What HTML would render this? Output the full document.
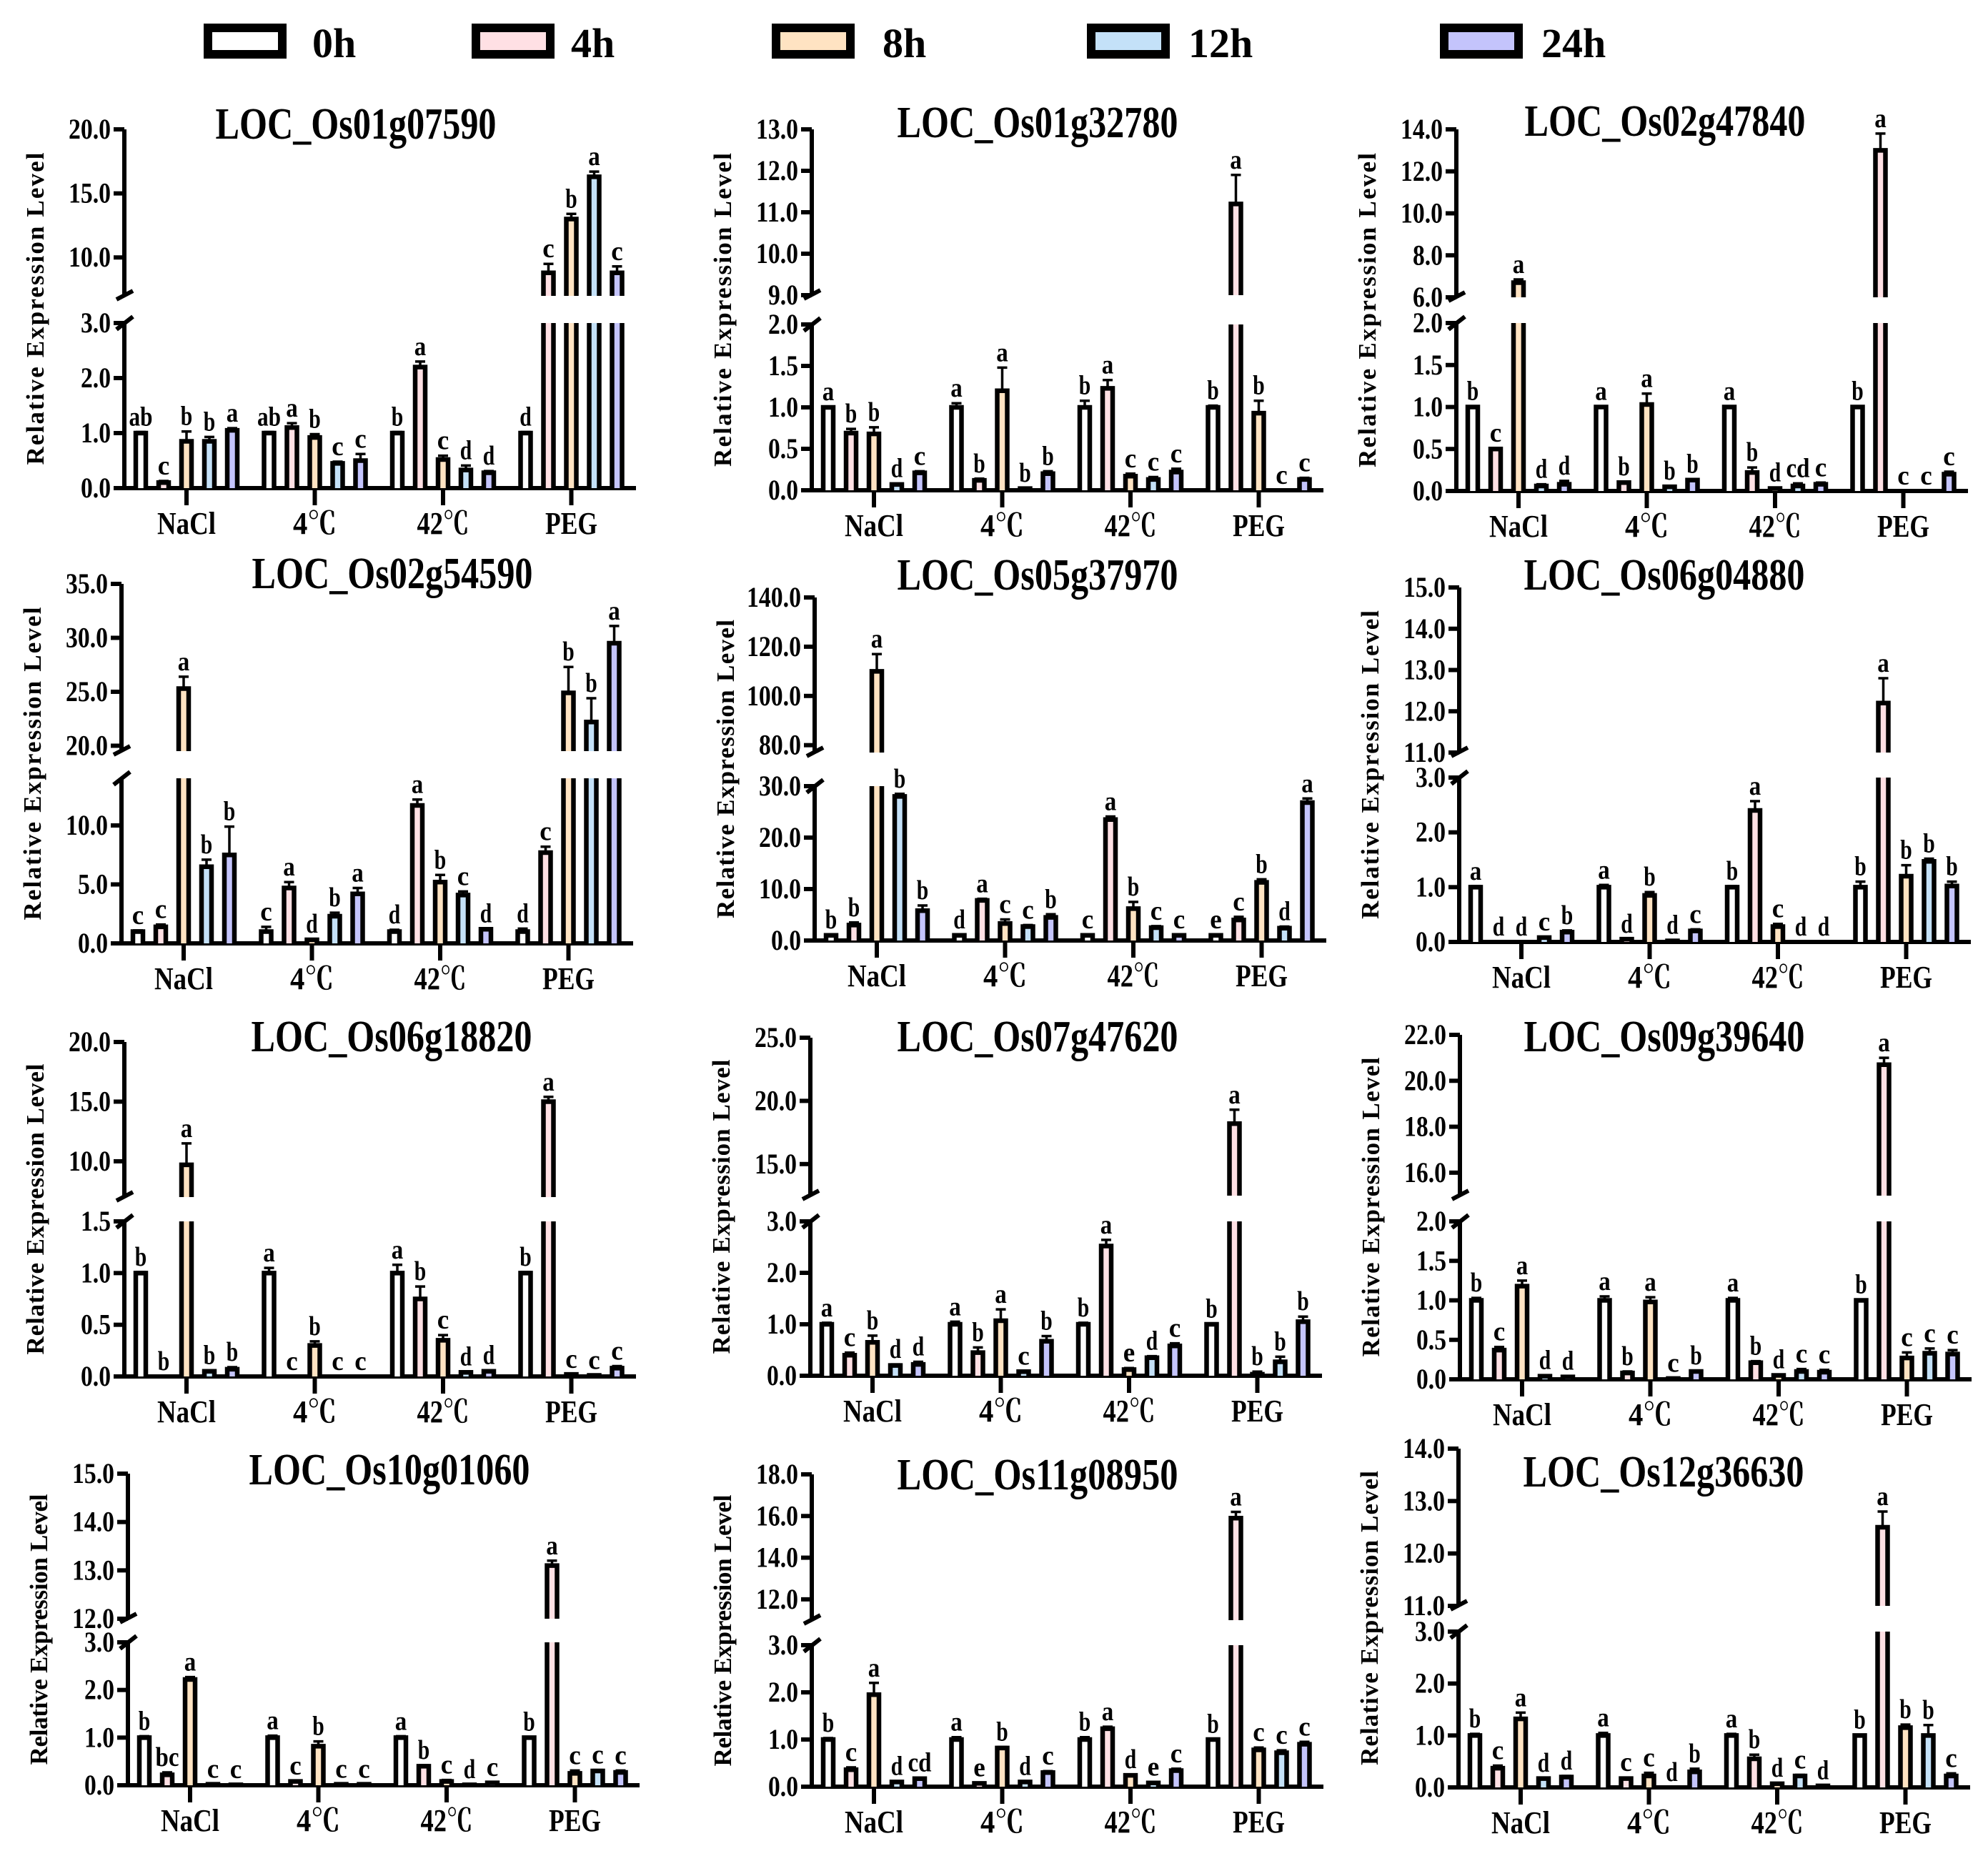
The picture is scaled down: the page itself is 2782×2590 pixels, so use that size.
<!DOCTYPE html>
<html><head><meta charset="utf-8"><style>
html,body{margin:0;padding:0;background:#fff;}
svg{display:block;}
text{font-family:"Liberation Serif","Noto Serif CJK SC",serif;font-weight:bold;fill:#000;}
</style></head><body>
<svg id="fig" xmlns="http://www.w3.org/2000/svg" width="2782" height="2590" viewBox="0 0 2782 2590">
<rect x="0" y="0" width="2782" height="2590" fill="#fff"/>
<g id="legend"></g>
<g id="panels"></g>
</svg>
<script>
const series = ['0h','4h','8h','12h','24h'];
const seriesColors = ['#ffffff','#ffe0e4','#ffe3c2','#c4e1f8','#c4c4fc'];
const categories = ['NaCl','4℃','42℃','PEG'];
const genes = ['LOC_Os01g07590','LOC_Os01g32780','LOC_Os02g47840','LOC_Os02g54590','LOC_Os05g37970','LOC_Os06g04880','LOC_Os06g18820','LOC_Os07g47620','LOC_Os09g39640','LOC_Os10g01060','LOC_Os11g08950','LOC_Os12g36630'];

const valuesP1 = [[1.0,0.1,0.85,0.85,1.05],[1.0,1.1,0.92,0.45,0.5],[1.0,2.2,0.52,0.33,0.28],[1.0,8.8,13.0,16.3,8.8]];
const errorsP1 = [[0.02,0.03,0.18,0.08,0.04],[0.02,0.08,0.06,0.03,0.12],[0.02,0.1,0.07,0.08,0.03],[0.02,0.7,0.4,0.4,0.5]];
const lettersP1 = [['ab','c','b','b','a'],['ab','a','b','c','c'],['b','a','c','d','d'],['d','c','b','a','c']];

const valuesP2 = [[1.0,0.69,0.68,0.07,0.21],[1.0,0.12,1.2,0.02,0.2],[1.0,1.23,0.17,0.13,0.22],[1.0,11.2,0.93,0,0.13]];
const errorsP2 = [[0.01,0.05,0.08,0.01,0.02],[0.05,0.02,0.28,0.005,0.03],[0.08,0.1,0.03,0.03,0.04],[0.02,0.7,0.15,0,0.02]];
const lettersP2 = [['a','b','b','d','c'],['a','b','a','b','b'],['b','a','c','c','c'],['b','a','b','c','c']];

const valuesP3 = [[1.0,0.5,6.7,0.06,0.08],[1.0,0.1,1.03,0.05,0.13],[1.0,0.22,0.03,0.06,0.08],[1.0,13.0,0,0,0.2]];
const errorsP3 = [[0.01,0.01,0.15,0.02,0.04],[0.01,0.01,0.13,0.01,0.01],[0.01,0.06,0.01,0.03,0.02],[0.01,0.8,0,0,0.03]];
const lettersP3 = [['b','c','a','d','d'],['a','b','a','b','b'],['a','b','d','cd','c'],['b','a','c','c','c']];

const valuesP4 = [[1.0,1.4,25.3,6.5,7.5],[1.0,4.7,0.3,2.3,4.2],[1.0,11.7,5.2,4.1,1.2],[1.0,7.7,24.9,22.2,29.5]];
const errorsP4 = [[0.1,0.2,1.1,0.6,2.4],[0.4,0.5,0.05,0.3,0.5],[0.15,0.5,0.6,0.3,0.05],[0.25,0.5,2.4,2.2,1.6]];
const lettersP4 = [['c','c','a','b','b'],['c','a','d','b','a'],['d','a','b','c','d'],['d','c','b','b','a']];

const valuesP5 = [[1.0,3.0,110,28,5.8],[1.0,7.8,3.3,2.7,4.5],[1.0,23.5,6.2,2.5,1.0],[1.0,4.0,11.3,2.4,26.8]];
const errorsP5 = [[0.1,0.5,7,0.5,1.0],[0.1,0.3,0.8,0.3,0.6],[0.1,0.6,1.3,0.3,0.1],[0.1,0.6,0.6,0.3,0.8]];
const lettersP5 = [['b','b','a','b','b'],['d','a','c','c','b'],['c','a','b','c','c'],['e','c','b','d','a']];

const valuesP6 = [[1.0,0,0,0.08,0.18],[1.0,0.05,0.85,0.02,0.2],[1.0,2.4,0.28,0,0],[1.0,12.2,1.2,1.47,1.02]];
const errorsP6 = [[0.02,0,0,0.01,0.03],[0.04,0.005,0.06,0.01,0.03],[0.02,0.17,0.05,0,0],[0.1,0.6,0.2,0.05,0.08]];
const lettersP6 = [['a','d','d','c','b'],['a','d','b','d','c'],['b','a','c','d','d'],['b','a','b','b','b']];

const valuesP7 = [[1.0,0,9.7,0.05,0.07],[1.0,0,0.3,0,0],[1.0,0.75,0.35,0.04,0.05],[1.0,15.0,0.02,0.01,0.08]];
const errorsP7 = [[0.01,0,1.8,0.01,0.02],[0.05,0,0.04,0,0],[0.08,0.12,0.05,0.005,0.01],[0.01,0.4,0,0,0.02]];
const lettersP7 = [['b','b','a','b','b'],['a','c','b','c','c'],['a','b','c','d','d'],['b','a','c','c','c']];

const valuesP8 = [[1.0,0.4,0.65,0.2,0.22],[1.0,0.45,1.07,0.08,0.67],[1.0,2.52,0.12,0.35,0.58],[1.0,18.2,0.03,0.27,1.05]];
const errorsP8 = [[0.03,0.05,0.13,0.02,0.05],[0.05,0.1,0.22,0.01,0.1],[0.03,0.12,0.03,0.03,0.05],[0.01,1.1,0.05,0.1,0.1]];
const lettersP8 = [['a','c','b','d','d'],['a','b','a','c','b'],['b','a','e','d','c'],['b','a','b','b','b']];

const valuesP9 = [[1.0,0.37,1.18,0.04,0.03],[1.0,0.08,0.98,0.01,0.1],[1.0,0.21,0.05,0.1,0.09],[1.0,20.7,0.27,0.33,0.32]];
const errorsP9 = [[0.03,0.04,0.07,0.01,0.01],[0.05,0.02,0.06,0.005,0.01],[0.03,0.02,0.01,0.03,0.03],[0.01,0.3,0.07,0.06,0.05]];
const lettersP9 = [['b','c','a','d','d'],['a','b','a','c','b'],['a','b','d','c','c'],['b','a','c','c','c']];

const valuesP10 = [[1.0,0.22,2.22,0.02,0.01],[1.0,0.08,0.82,0.02,0.02],[1.0,0.4,0.08,0.01,0.05],[1.0,13.1,0.25,0.3,0.27]];
const errorsP10 = [[0.03,0.05,0.05,0.005,0.005],[0.04,0.01,0.1,0.005,0.005],[0.03,0.02,0.03,0.005,0.01],[0.01,0.1,0.06,0.02,0.04]];
const lettersP10 = [['b','bc','a','c','c'],['a','c','b','c','c'],['a','b','c','d','c'],['b','a','c','c','c']];

const valuesP11 = [[1.0,0.36,1.95,0.1,0.17],[1.0,0.07,0.82,0.1,0.3],[1.0,1.23,0.24,0.08,0.34],[1.0,15.9,0.78,0.72,0.9]];
const errorsP11 = [[0.03,0.05,0.25,0.01,0.02],[0.05,0.01,0.02,0.01,0.03],[0.05,0.04,0.02,0.02,0.04],[0.01,0.3,0.05,0.05,0.05]];
const lettersP11 = [['b','c','a','d','cd'],['a','e','b','d','c'],['b','a','d','e','c'],['b','a','c','c','c']];

const valuesP12 = [[1.0,0.37,1.32,0.17,0.2],[1.0,0.17,0.22,0,0.3],[1.0,0.55,0.07,0.22,0.03],[1.0,12.5,1.15,1.0,0.22]];
const errorsP12 = [[0.03,0.05,0.12,0.01,0.02],[0.05,0.02,0.06,0,0.06],[0.03,0.08,0.01,0.02,0.005],[0.01,0.3,0.06,0.2,0.05]];
const lettersP12 = [['b','c','a','d','d'],['a','c','c','d','b'],['a','b','d','c','d'],['b','a','b','b','c']];

const upperTicksP1=[10,15,20], lowerTicksP1=[0,1,2,3];
const upperTicksP2=[9,10,11,12,13], lowerTicksP2=[0,0.5,1,1.5,2];
const upperTicksP3=[6,8,10,12,14], lowerTicksP3=[0,0.5,1,1.5,2];
const upperTicksP4=[20,25,30,35], lowerTicksP4=[0,5,10];
const upperTicksP5=[80,100,120,140], lowerTicksP5=[0,10,20,30];
const upperTicksP6=[11,12,13,14,15], lowerTicksP6=[0,1,2,3];
const upperTicksP7=[10,15,20], lowerTicksP7=[0,0.5,1,1.5];
const upperTicksP8=[15,20,25], lowerTicksP8=[0,1,2,3];
const upperTicksP9=[16,18,20,22], lowerTicksP9=[0,0.5,1,1.5,2];
const upperTicksP10=[12,13,14,15], lowerTicksP10=[0,1,2,3];
const upperTicksP11=[12,14,16,18], lowerTicksP11=[0,1,2,3];
const upperTicksP12=[11,12,13,14], lowerTicksP12=[0,1,2,3];

const uRangeP = [[7,20],[9,13],[6,14],[19.5,35],[77,140],[11,15],[7,20],[12.5,25],[15,22],[12,15],[11,18],[11,14]];
const lMaxP = [3,2,2,14,30,3,1.5,3,2,3,3,3];

const layout = [
 {x0:174,uTop:181,uBot:414,lTop:452,zero:683,tx:498,ty:194},
 {x0:1136,uTop:181,uBot:413,lTop:454,zero:686,tx:1452,ty:192},
 {x0:2038,uTop:181,uBot:416,lTop:452,zero:687,tx:2330,ty:190},
 {x0:170,uTop:817,uBot:1051,lTop:1089,zero:1320,tx:549,ty:823},
 {x0:1140,uTop:836,uBot:1053,lTop:1100,zero:1316,tx:1452,ty:825},
 {x0:2042,uTop:822,uBot:1053,lTop:1088,zero:1318,tx:2329,ty:825},
 {x0:174,uTop:1458,uBot:1675,lTop:1709,zero:1926,tx:548,ty:1471},
 {x0:1134,uTop:1452,uBot:1673,lTop:1709,zero:1925,tx:1452,ty:1471},
 {x0:2043,uTop:1448,uBot:1673,lTop:1709,zero:1930,tx:2329,ty:1471},
 {x0:179,uTop:2062,uBot:2265,lTop:2298,zero:2498,tx:545,ty:2077},
 {x0:1136,uTop:2063,uBot:2267,lTop:2302,zero:2500,tx:1452,ty:2084},
 {x0:2041,uTop:2027,uBot:2247,lTop:2283,zero:2501,tx:2328,ty:2080}
];
const catLabelWidths=[82,61,73,73];
const allValues=[valuesP1,valuesP2,valuesP3,valuesP4,valuesP5,valuesP6,valuesP7,valuesP8,valuesP9,valuesP10,valuesP11,valuesP12];
const allErrors=[errorsP1,errorsP2,errorsP3,errorsP4,errorsP5,errorsP6,errorsP7,errorsP8,errorsP9,errorsP10,errorsP11,errorsP12];
const allLetters=[lettersP1,lettersP2,lettersP3,lettersP4,lettersP5,lettersP6,lettersP7,lettersP8,lettersP9,lettersP10,lettersP11,lettersP12];
const allUpper=[upperTicksP1,upperTicksP2,upperTicksP3,upperTicksP4,upperTicksP5,upperTicksP6,upperTicksP7,upperTicksP8,upperTicksP9,upperTicksP10,upperTicksP11,upperTicksP12];
const allLower=[lowerTicksP1,lowerTicksP2,lowerTicksP3,lowerTicksP4,lowerTicksP5,lowerTicksP6,lowerTicksP7,lowerTicksP8,lowerTicksP9,lowerTicksP10,lowerTicksP11,lowerTicksP12];

const NS='http://www.w3.org/2000/svg';
function mk(tag, attrs, parent){const e=document.createElementNS(NS,tag);for(const k in attrs)e.setAttribute(k,attrs[k]);if(parent)parent.appendChild(e);return e;}

const legendG=document.getElementById('legend');
const legBoxX=[285,660,1080,1521,2015];
const legTextX=[437,799,1235,1663,2157];
series.forEach((s,i)=>{
  const g=mk('g',{},legendG);
  
  
  const r=mk('rect',{x:legBoxX[i]+6,y:39,width:104,height:37,fill:seriesColors[i],stroke:'#000','stroke-width':12},g);
  
  
  const t=mk('text',{x:legTextX[i],y:80,'font-size':58},g);
  t.textContent=s;
  
  
});

function fmt(v){return v.toFixed(1);}
const SW=6.5;
const panelsG=document.getElementById('panels');
genes.forEach((gene,p)=>{
  const L=layout[p], vals=allValues[p], errs=allErrors[p], lets=allLetters[p];
  const [uMin,uMax]=uRangeP[p], lMax=lMaxP[p];
  const x0=L.x0, xEnd=x0+716;
  const g=mk('g',{},panelsG);
  
  
  const yLow=v=>L.zero-(Math.min(v,lMax)/lMax)*(L.zero-L.lTop);
  const yUp=v=>L.uBot-((v-uMin)/(uMax-uMin))*(L.uBot-L.uTop);
  const yVal=v=>v<=lMax?yLow(v):(v>=uMin?yUp(v):L.lTop);
  const xGroup=i=>x0+87+179.5*i;
  const xBar=(i,j)=>xGroup(i)+(j-2)*32;

  const t=mk('text',{x:L.tx,y:L.ty,'font-size':62,'text-anchor':'middle',textLength:393,lengthAdjust:'spacingAndGlyphs'},g);
  t.textContent=gene;
  
  

  const cy=(L.uTop+L.zero)/2, lx=x0-113;
  const yl=mk('text',{x:lx,y:cy,'font-size':35,'text-anchor':'middle',transform:`rotate(-90 ${lx} ${cy})`,textLength:Math.round(0.87*(L.zero-L.uTop)),lengthAdjust:'spacing'},g);
  yl.textContent='Relative Expression Level';
  
  

  const ax=mk('path',{d:`M${x0},${L.uTop} V${L.uBot} M${x0},${L.lTop} V${L.zero+3} M${x0-3},${L.zero} H${xEnd}`,stroke:'#000','stroke-width':6,fill:'none'},g);
  
  
  const br=mk('path',{d:`M${x0-11},${L.uBot+5} L${x0+12},${L.uBot-7} M${x0-11},${L.lTop+9} L${x0+12},${L.lTop-9}`,stroke:'#000','stroke-width':6,fill:'none'},g);
  
  

  const tickLab=(v,y)=>{
    const tm=mk('line',{x1:x0-15,x2:x0,y1:y,y2:y,stroke:'#000','stroke-width':6},g);
    
    
    const s=fmt(v);
    const tl=mk('text',{x:x0-19,y:y+13,'font-size':40,'text-anchor':'end',textLength:(s.length-1)*17+8,lengthAdjust:'spacingAndGlyphs'},g);
    tl.textContent=s;
    
    
  };
  allUpper[p].forEach(v=>tickLab(v,yUp(v)));
  allLower[p].forEach(v=>tickLab(v,yLow(v)));

  categories.forEach((c,i)=>{
    const xc=xGroup(i);
    const tk=mk('line',{x1:xc,x2:xc,y1:L.zero,y2:L.zero+24,stroke:'#000','stroke-width':6},g);
    
    
    const cl=mk('text',{x:xc,y:L.zero+64,'font-size':44,'text-anchor':'middle',textLength:catLabelWidths[i],lengthAdjust:'spacingAndGlyphs'},g);
    cl.textContent=c;
    
    
    series.forEach((s,j)=>{
      const v=vals[i][j], e=errs[i][j];
      const xl=xBar(i,j)-7, xr=xBar(i,j)+7, fill=seriesColors[j];
      const bg=mk('g',{},g);
      
      
      if(v>0){
        const top=yLow(v);
        mk('rect',{x:xl,y:top,width:14,height:L.zero-top,fill:fill},bg);
        if(v<=lMax) mk('path',{d:`M${xl},${L.zero} V${top} H${xr} V${L.zero}`,stroke:'#000','stroke-width':SW,fill:'none'},bg);
        else mk('path',{d:`M${xl},${L.zero} V${L.lTop} M${xr},${L.lTop} V${L.zero}`,stroke:'#000','stroke-width':SW,fill:'none'},bg);
        if(v>uMin){
          const ut=yUp(v);
          mk('rect',{x:xl,y:ut,width:14,height:L.uBot-ut,fill:fill},bg);
          mk('path',{d:`M${xl},${L.uBot} V${ut} H${xr} V${L.uBot}`,stroke:'#000','stroke-width':SW,fill:'none'},bg);
        }
        if(e>0){
          const y1=yVal(v), y2=yVal(v+e);
          if(y1-y2>0.5){
            mk('path',{d:`M${xBar(i,j)},${y1} V${y2} M${xBar(i,j)-7},${y2} H${xBar(i,j)+7}`,stroke:'#000','stroke-width':3.5,fill:'none'},bg);
          }
        }
      }
      const ly=(v>0?yVal(v+e):L.zero)-9;
      const lt=mk('text',{x:xBar(i,j),y:ly,'font-size':38,'text-anchor':'middle',textLength:lets[i][j].length*16.5,lengthAdjust:'spacingAndGlyphs'},bg);
      lt.textContent=lets[i][j];
      
      
    });
  });
});
</script>
</body></html>
